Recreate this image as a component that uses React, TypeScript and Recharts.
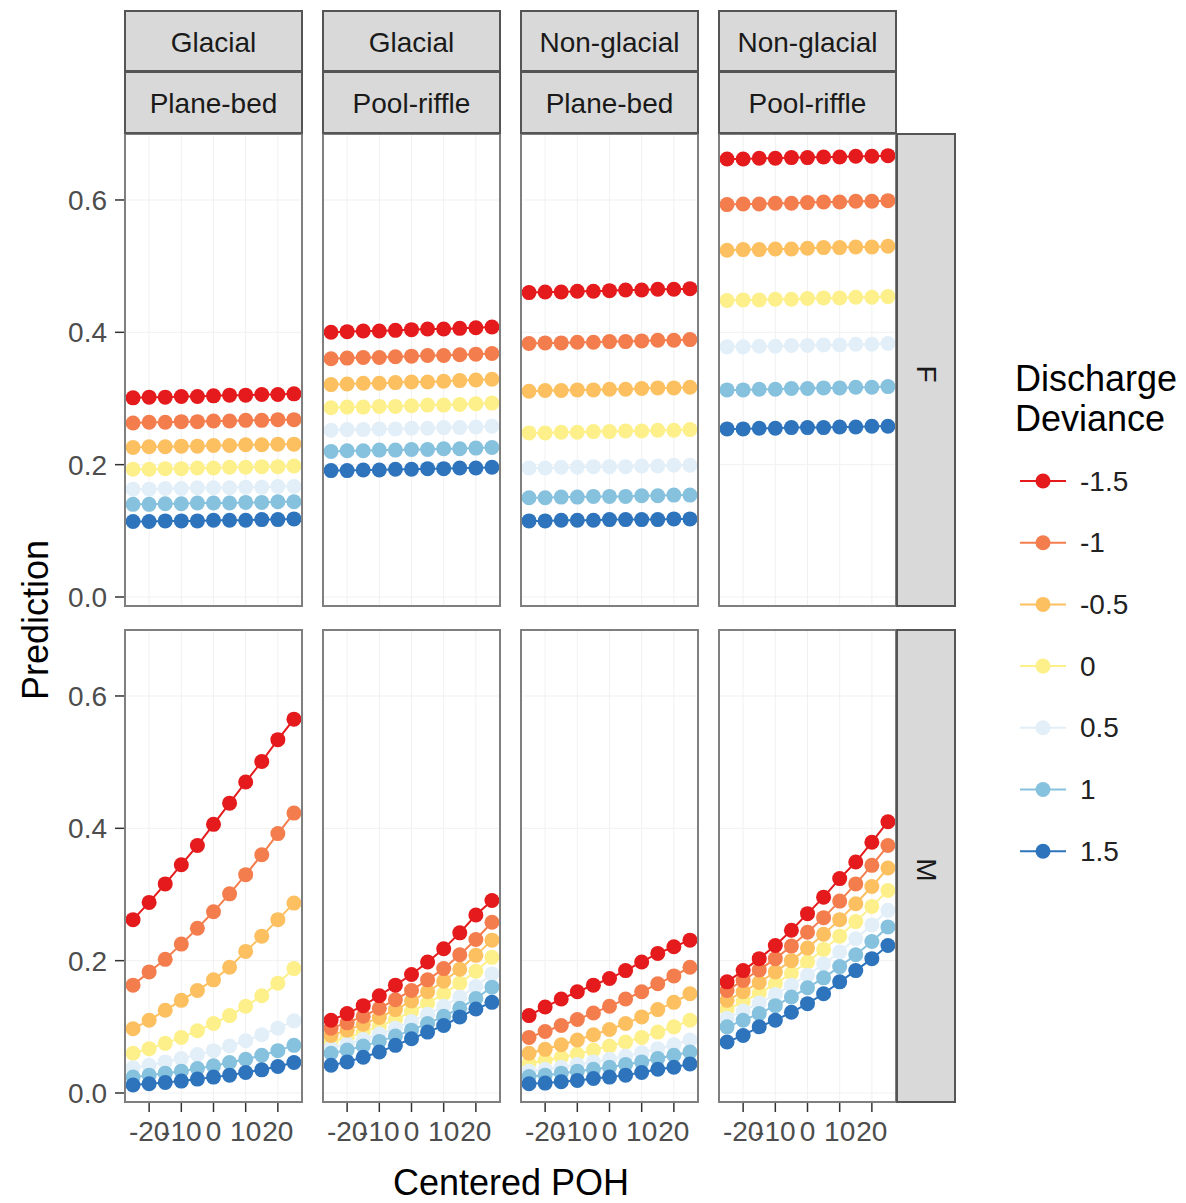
import { LineChart, Line, XAxis, YAxis, CartesianGrid } from 'recharts';

const X_VALUES = [-25, -20, -15, -10, -5, 0, 5, 10, 15, 20, 25];
const X_TICKS = [-20, -10, 0, 10, 20];
const Y_TICKS = [0, 0.2, 0.4, 0.6];
const DEVIANCE_LEVELS = ['-1.5', '-1', '-0.5', '0', '0.5', '1', '1.5'];
const LEVEL_COLORS = ['#e41a1c', '#f47d4e', '#fcc060', '#fdf08a', '#e2eff8', '#86c1de', '#2d74bd'];
const STRIP_TOP = ['Glacial', 'Glacial', 'Non-glacial', 'Non-glacial'];
const STRIP_BOTTOM = ['Plane-bed', 'Pool-riffle', 'Plane-bed', 'Pool-riffle'];
const ROW_LABELS = ['F', 'M'];

// F row, one line per deviance level (-1.5 .. 1.5)
const fGlacialPlane = [
  [0.301, 0.302, 0.302, 0.303, 0.303, 0.304, 0.305, 0.305, 0.306, 0.306, 0.307],
  [0.263, 0.264, 0.264, 0.265, 0.265, 0.266, 0.266, 0.267, 0.267, 0.268, 0.268],
  [0.226, 0.227, 0.227, 0.228, 0.228, 0.229, 0.229, 0.230, 0.230, 0.231, 0.231],
  [0.193, 0.193, 0.194, 0.194, 0.195, 0.195, 0.196, 0.196, 0.197, 0.197, 0.198],
  [0.163, 0.163, 0.164, 0.164, 0.165, 0.165, 0.165, 0.166, 0.166, 0.167, 0.167],
  [0.140, 0.140, 0.141, 0.141, 0.142, 0.142, 0.142, 0.143, 0.143, 0.144, 0.144],
  [0.114, 0.114, 0.115, 0.115, 0.115, 0.116, 0.116, 0.116, 0.117, 0.117, 0.118],
];
const fGlacialPool = [
  [0.400, 0.401, 0.402, 0.402, 0.403, 0.404, 0.405, 0.405, 0.406, 0.407, 0.408],
  [0.360, 0.361, 0.362, 0.362, 0.363, 0.364, 0.365, 0.365, 0.366, 0.367, 0.368],
  [0.321, 0.322, 0.323, 0.323, 0.324, 0.325, 0.325, 0.326, 0.327, 0.328, 0.329],
  [0.286, 0.287, 0.287, 0.288, 0.288, 0.289, 0.290, 0.290, 0.291, 0.292, 0.293],
  [0.252, 0.253, 0.253, 0.254, 0.254, 0.255, 0.255, 0.256, 0.256, 0.257, 0.258],
  [0.220, 0.221, 0.221, 0.222, 0.222, 0.223, 0.223, 0.224, 0.224, 0.225, 0.226],
  [0.191, 0.191, 0.192, 0.192, 0.193, 0.193, 0.194, 0.194, 0.195, 0.195, 0.196],
];
const fNonGlacialPlane = [
  [0.460, 0.461, 0.461, 0.462, 0.462, 0.463, 0.464, 0.464, 0.465, 0.465, 0.466],
  [0.383, 0.384, 0.384, 0.385, 0.385, 0.386, 0.386, 0.387, 0.388, 0.388, 0.389],
  [0.311, 0.312, 0.312, 0.313, 0.313, 0.314, 0.314, 0.315, 0.316, 0.316, 0.317],
  [0.248, 0.248, 0.249, 0.249, 0.250, 0.250, 0.251, 0.251, 0.252, 0.252, 0.253],
  [0.195, 0.195, 0.196, 0.196, 0.197, 0.197, 0.197, 0.198, 0.198, 0.199, 0.199],
  [0.150, 0.150, 0.151, 0.151, 0.152, 0.152, 0.152, 0.153, 0.153, 0.154, 0.154],
  [0.115, 0.115, 0.116, 0.116, 0.116, 0.117, 0.117, 0.117, 0.117, 0.118, 0.118],
];
const fNonGlacialPool = [
  [0.662, 0.662, 0.663, 0.663, 0.664, 0.664, 0.665, 0.665, 0.666, 0.666, 0.667],
  [0.593, 0.594, 0.594, 0.595, 0.595, 0.596, 0.597, 0.597, 0.598, 0.598, 0.599],
  [0.524, 0.525, 0.525, 0.526, 0.526, 0.527, 0.528, 0.528, 0.529, 0.529, 0.530],
  [0.448, 0.449, 0.449, 0.450, 0.450, 0.451, 0.452, 0.452, 0.453, 0.453, 0.454],
  [0.378, 0.378, 0.379, 0.379, 0.380, 0.380, 0.381, 0.381, 0.382, 0.382, 0.383],
  [0.313, 0.313, 0.314, 0.314, 0.315, 0.315, 0.316, 0.316, 0.317, 0.317, 0.318],
  [0.254, 0.254, 0.255, 0.255, 0.256, 0.256, 0.256, 0.257, 0.257, 0.258, 0.258],
];

// M row
const mGlacialPlane = [
  [0.262, 0.288, 0.316, 0.345, 0.374, 0.406, 0.438, 0.470, 0.501, 0.534, 0.565],
  [0.163, 0.183, 0.202, 0.225, 0.249, 0.274, 0.301, 0.330, 0.360, 0.392, 0.423],
  [0.097, 0.110, 0.125, 0.140, 0.155, 0.171, 0.190, 0.214, 0.237, 0.262, 0.287],
  [0.060, 0.067, 0.075, 0.084, 0.094, 0.105, 0.117, 0.131, 0.147, 0.166, 0.188],
  [0.038, 0.042, 0.047, 0.052, 0.058, 0.064, 0.071, 0.079, 0.088, 0.098, 0.109],
  [0.024, 0.027, 0.030, 0.033, 0.037, 0.041, 0.046, 0.051, 0.057, 0.064, 0.072],
  [0.012, 0.014, 0.016, 0.018, 0.021, 0.024, 0.027, 0.031, 0.035, 0.040, 0.046],
];
const mGlacialPool = [
  [0.110, 0.120, 0.132, 0.147, 0.163, 0.179, 0.198, 0.218, 0.242, 0.269, 0.291],
  [0.098, 0.106, 0.116, 0.128, 0.141, 0.155, 0.171, 0.188, 0.209, 0.232, 0.258],
  [0.087, 0.095, 0.104, 0.114, 0.126, 0.139, 0.153, 0.169, 0.187, 0.208, 0.231],
  [0.077, 0.084, 0.092, 0.101, 0.111, 0.123, 0.136, 0.150, 0.166, 0.184, 0.205],
  [0.068, 0.074, 0.081, 0.089, 0.098, 0.108, 0.119, 0.131, 0.145, 0.161, 0.180],
  [0.060, 0.065, 0.071, 0.078, 0.086, 0.095, 0.105, 0.116, 0.128, 0.143, 0.160],
  [0.042, 0.047, 0.054, 0.062, 0.072, 0.082, 0.092, 0.102, 0.115, 0.127, 0.137],
];
const mNonGlacialPlane = [
  [0.117, 0.130, 0.142, 0.153, 0.163, 0.173, 0.185, 0.198, 0.211, 0.221, 0.231],
  [0.084, 0.093, 0.102, 0.111, 0.121, 0.131, 0.142, 0.153, 0.165, 0.177, 0.190],
  [0.060, 0.066, 0.073, 0.080, 0.088, 0.096, 0.105, 0.115, 0.126, 0.137, 0.150],
  [0.045, 0.049, 0.054, 0.059, 0.065, 0.071, 0.077, 0.084, 0.092, 0.100, 0.110],
  [0.033, 0.036, 0.039, 0.043, 0.047, 0.051, 0.056, 0.061, 0.067, 0.073, 0.080],
  [0.025, 0.027, 0.030, 0.033, 0.036, 0.039, 0.043, 0.047, 0.052, 0.057, 0.062],
  [0.014, 0.015, 0.017, 0.019, 0.022, 0.024, 0.027, 0.031, 0.036, 0.039, 0.044],
];
const mNonGlacialPool = [
  [0.168, 0.185, 0.203, 0.223, 0.246, 0.271, 0.296, 0.324, 0.349, 0.379, 0.410],
  [0.155, 0.170, 0.186, 0.203, 0.222, 0.243, 0.265, 0.290, 0.316, 0.344, 0.374],
  [0.140, 0.153, 0.167, 0.183, 0.200, 0.219, 0.240, 0.262, 0.286, 0.312, 0.340],
  [0.126, 0.138, 0.151, 0.165, 0.181, 0.198, 0.217, 0.237, 0.259, 0.282, 0.306],
  [0.113, 0.124, 0.136, 0.149, 0.163, 0.178, 0.195, 0.213, 0.233, 0.254, 0.276],
  [0.100, 0.110, 0.120, 0.132, 0.145, 0.159, 0.174, 0.191, 0.209, 0.229, 0.251],
  [0.077, 0.087, 0.100, 0.110, 0.122, 0.135, 0.150, 0.168, 0.185, 0.203, 0.223],
];

const PANELS = [
  [fGlacialPlane, fGlacialPool, fNonGlacialPlane, fNonGlacialPool],
  [mGlacialPlane, mGlacialPool, mNonGlacialPlane, mNonGlacialPool],
];

const FONT = '"Liberation Sans", Arial, sans-serif';
const PANEL_LEFT = [125, 323, 521, 719];
const PANEL_TOP = [134, 630];
const PANEL_W = 177;
const PANEL_H = 472;
const Y_AXIS_W = 70;
const X_AXIS_H = 50;
const LABEL_PAD = 14; // room below the top-left panel so the "0.0" label is not clipped
const DOT_R = 7.5;
// draw the pale middle levels first so the strong colours sit on top
const DRAW_ORDER = [3, 4, 2, 5, 1, 6, 0];

const toRows = (series: number[][]) =>
  X_VALUES.map((x, i) => {
    const row: Record<string, number> = { x };
    series.forEach((s, k) => {
      row[`s${k}`] = s[i];
    });
    return row;
  });

function Panel({ series, row, col }: { series: number[][]; row: number; col: number }) {
  const showY = col === 0;
  const showX = row === 1;
  const padBottom = !showX && showY ? LABEL_PAD : 0;
  const w = PANEL_W + (showY ? Y_AXIS_W : 0);
  const h = PANEL_H + (showX ? X_AXIS_H : 0) + padBottom;
  return (
    <div style={{ position: 'absolute', left: PANEL_LEFT[col] - (showY ? Y_AXIS_W : 0), top: PANEL_TOP[row] }}>
      <LineChart width={w} height={h} data={toRows(series)} margin={{ top: 0, right: 0, bottom: padBottom, left: 0 }}>
        <CartesianGrid stroke="#f1f1f1" horizontalValues={Y_TICKS} verticalValues={X_TICKS} />
        <XAxis
          type="number"
          dataKey="x"
          domain={[-27.5, 27.5]}
          ticks={X_TICKS}
          interval={0}
          hide={!showX}
          height={X_AXIS_H}
          allowDataOverflow
          axisLine={false}
          tickSize={10}
          tickMargin={9}
          tickLine={{ stroke: '#333333', strokeWidth: 1.5 }}
          tick={{ fill: '#4d4d4d', fontSize: 28, fontFamily: FONT }}
        />
        <YAxis
          type="number"
          domain={[-0.0136, 0.6997]}
          ticks={Y_TICKS}
          interval={0}
          hide={!showY}
          width={Y_AXIS_W}
          allowDataOverflow
          axisLine={false}
          tickSize={10}
          tickMargin={8}
          tickLine={{ stroke: '#333333', strokeWidth: 1.5 }}
          tick={{ fill: '#4d4d4d', fontSize: 28, fontFamily: FONT }}
          tickFormatter={(v: number) => v.toFixed(1)}
        />
        {DRAW_ORDER.map((k) => (
          <Line
            key={k}
            type="linear"
            dataKey={`s${k}`}
            stroke={LEVEL_COLORS[k]}
            strokeWidth={2}
            dot={{ r: DOT_R, fill: LEVEL_COLORS[k], stroke: 'none' }}
            activeDot={false}
            isAnimationActive={false}
          />
        ))}
      </LineChart>
    </div>
  );
}

function Overlay() {
  const stripRight = PANEL_LEFT[3] + PANEL_W;
  return (
    <svg width={1186} height={1203} style={{ position: 'absolute', left: 0, top: 0, pointerEvents: 'none' }} fontFamily={FONT}>
      {PANEL_TOP.map((top, r) =>
        PANEL_LEFT.map((left, c) => (
          <rect key={`b${r}${c}`} x={left} y={top} width={PANEL_W} height={PANEL_H} fill="none" stroke="#7f7f7f" strokeWidth={2} />
        ))
      )}
      {PANEL_LEFT.map((left, c) => (
        <g key={`st${c}`}>
          <rect x={left} y={11} width={PANEL_W} height={60} fill="#d9d9d9" stroke="#555" strokeWidth={2} />
          <text x={left + PANEL_W / 2} y={42} textAnchor="middle" dominantBaseline="central" fontSize={28} fill="#1a1a1a">
            {STRIP_TOP[c]}
          </text>
          <rect x={left} y={72} width={PANEL_W} height={61} fill="#d9d9d9" stroke="#555" strokeWidth={2} />
          <text x={left + PANEL_W / 2} y={103} textAnchor="middle" dominantBaseline="central" fontSize={28} fill="#1a1a1a">
            {STRIP_BOTTOM[c]}
          </text>
        </g>
      ))}
      {PANEL_TOP.map((top, r) => {
        const cx = stripRight + 30;
        const cy = top + PANEL_H / 2 + 4;
        return (
          <g key={`sr${r}`}>
            <rect x={stripRight + 1} y={top} width={58} height={PANEL_H} fill="#d9d9d9" stroke="#555" strokeWidth={2} />
            <text x={cx} y={cy} textAnchor="middle" dominantBaseline="central" fontSize={28} fill="#1a1a1a" transform={`rotate(90 ${cx} ${cy})`}>
              {ROW_LABELS[r]}
            </text>
          </g>
        );
      })}
      <text x={511} y={1195} textAnchor="middle" fontSize={36} fill="#000">
        Centered POH
      </text>
      <text transform="translate(48 620) rotate(-90)" textAnchor="middle" fontSize={36} fill="#000">
        Prediction
      </text>
      <text x={1015} y={391} fontSize={36} fill="#000">
        Discharge
      </text>
      <text x={1015} y={431} fontSize={36} fill="#000">
        Deviance
      </text>
      {DEVIANCE_LEVELS.map((lab, i) => {
        const y = 481 + i * 61.7;
        return (
          <g key={lab}>
            <line x1={1020} x2={1066} y1={y} y2={y} stroke={LEVEL_COLORS[i]} strokeWidth={2} />
            <circle cx={1043} cy={y} r={DOT_R} fill={LEVEL_COLORS[i]} />
            <text x={1080} y={y} dominantBaseline="central" fontSize={28} fill="#222">
              {lab}
            </text>
          </g>
        );
      })}
    </svg>
  );
}

export default function App() {
  return (
    <div style={{ position: 'absolute', left: 0, top: 0, width: 1186, height: 1203, background: '#fff', fontFamily: FONT }}>
      {PANELS.map((rowPanels, r) =>
        rowPanels.map((series, c) => <Panel key={`${r}-${c}`} series={series} row={r} col={c} />)
      )}
      <Overlay />
    </div>
  );
}
